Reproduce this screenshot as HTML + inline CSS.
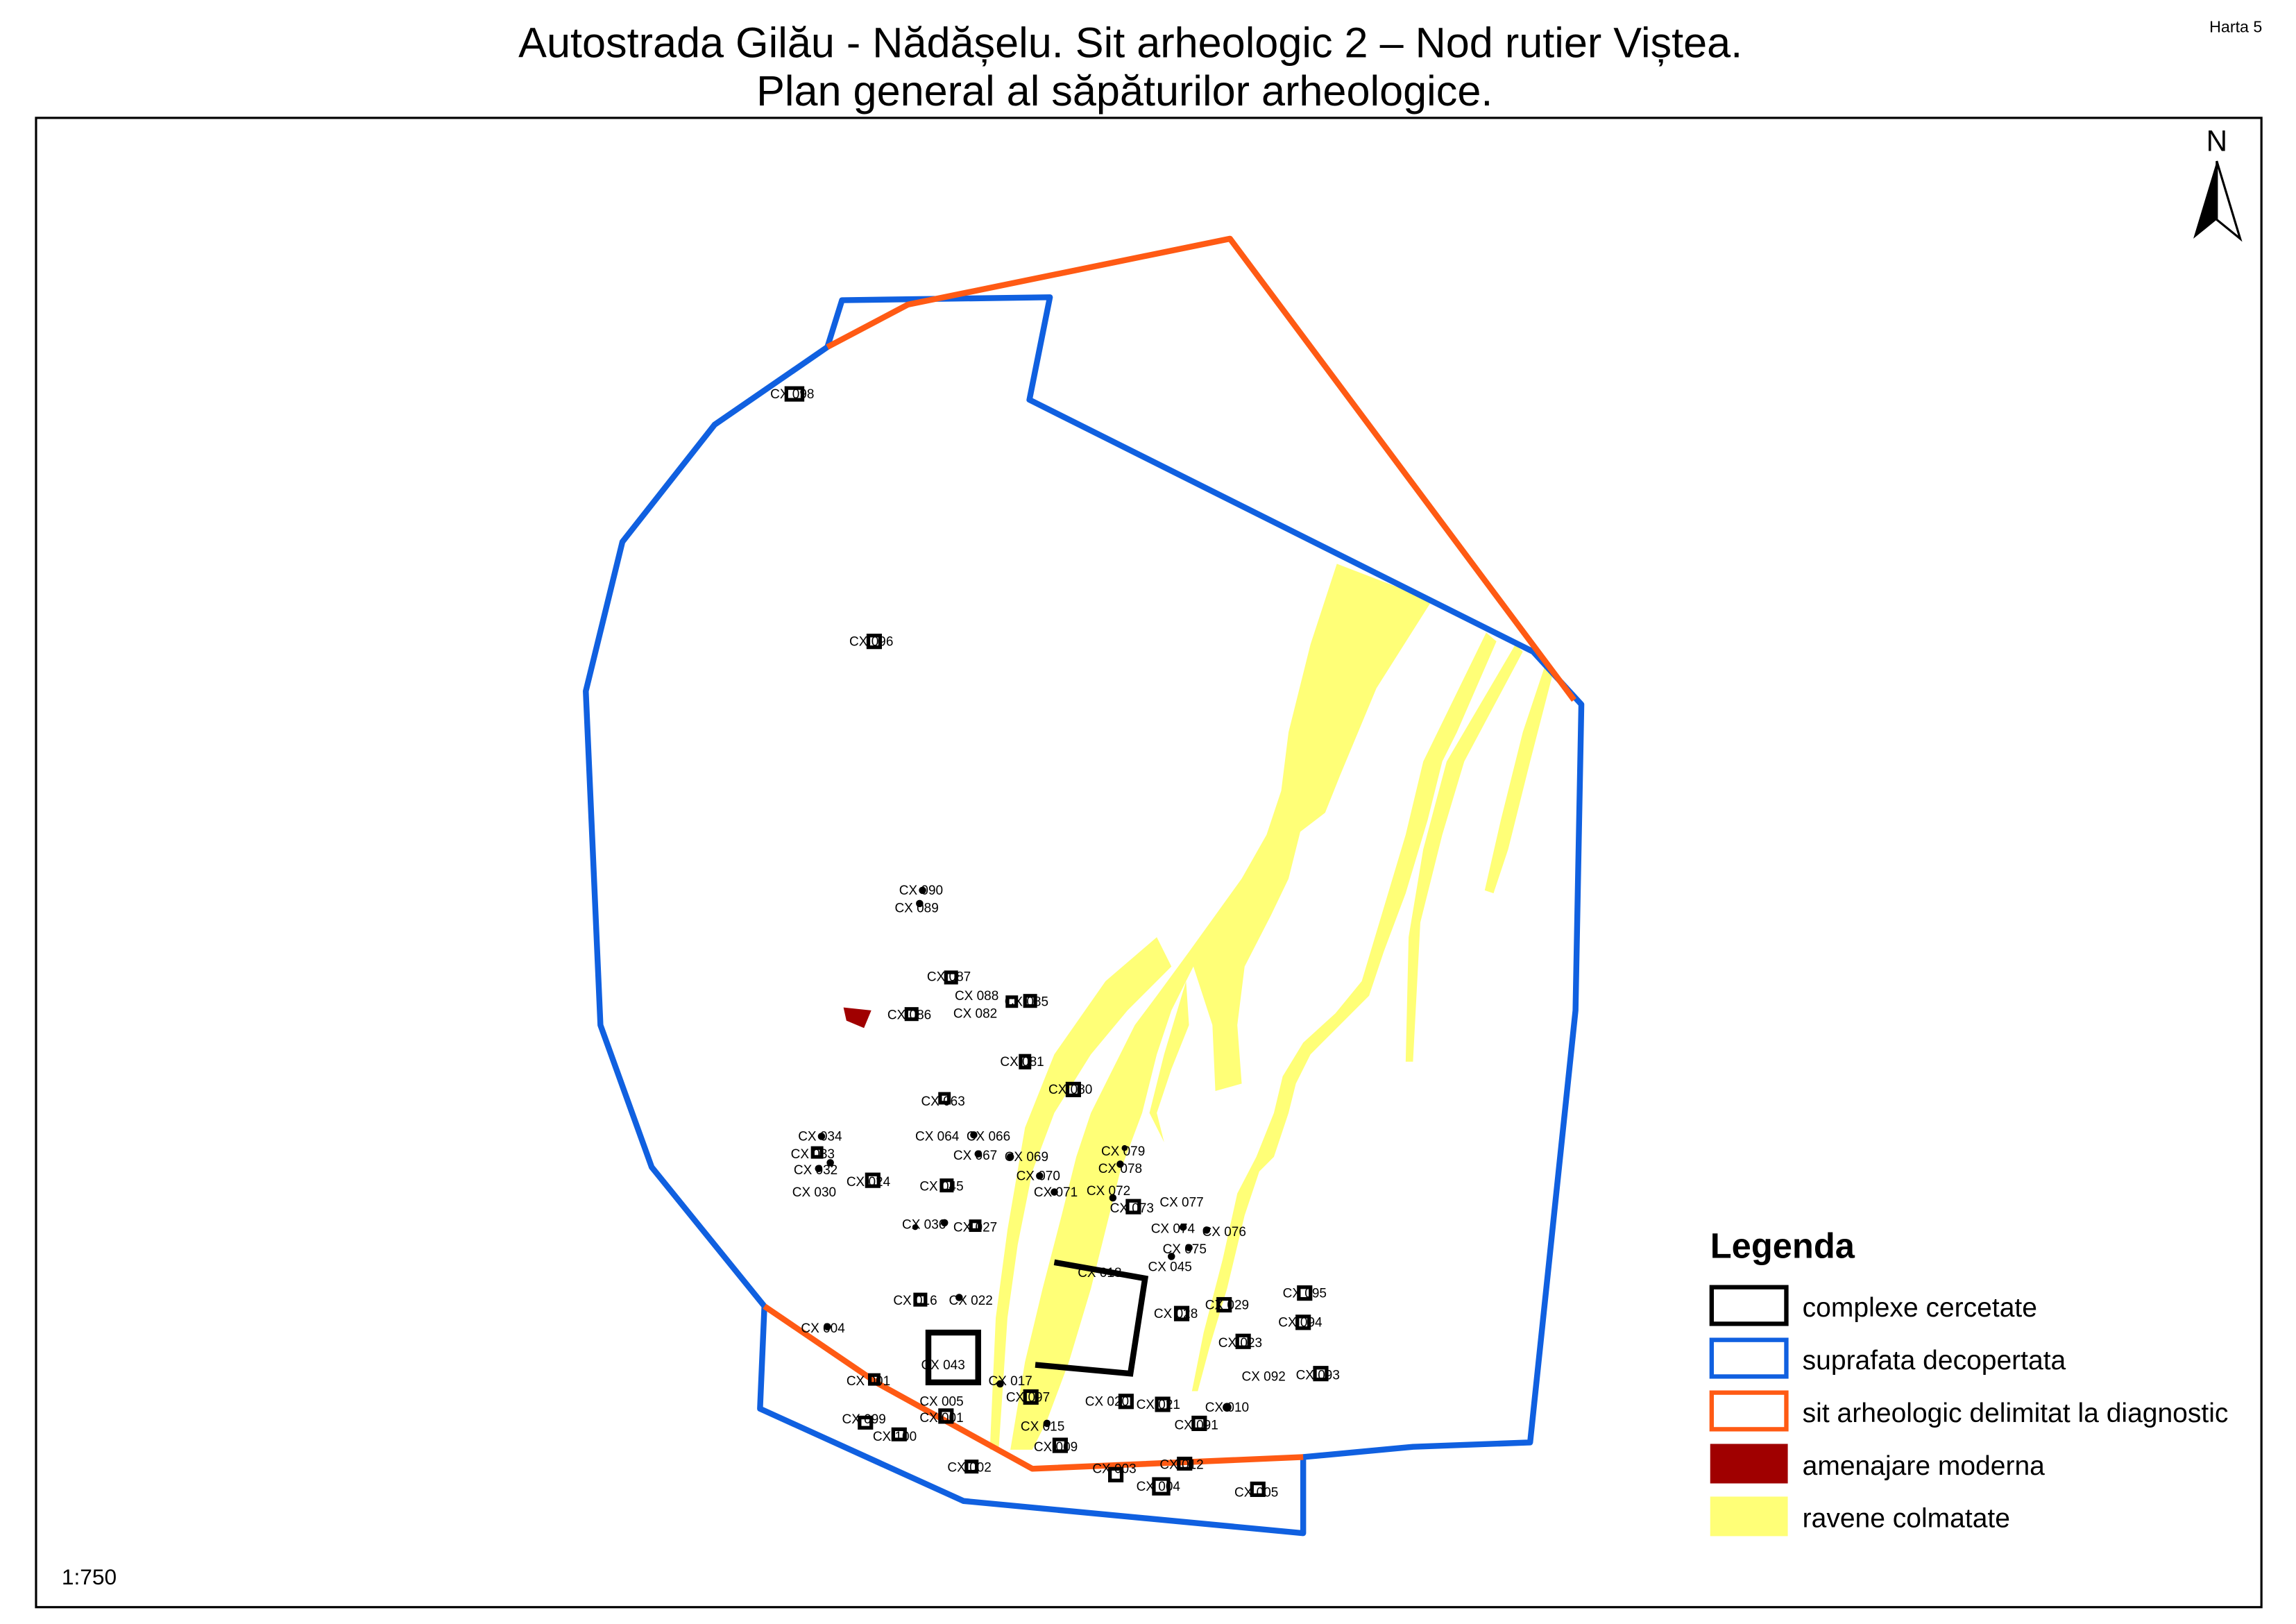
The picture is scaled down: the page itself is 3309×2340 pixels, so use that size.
<!DOCTYPE html>
<html><head><meta charset="utf-8"><style>html,body{margin:0;padding:0;background:#fff}svg{display:block}</style></head>
<body>
<svg width="3309" height="2340" viewBox="0 0 1568 1109" xmlns="http://www.w3.org/2000/svg" font-family="Liberation Sans, sans-serif">
<rect x="0" y="0" width="1568" height="1109" fill="#fff"/>
<text x="772" y="39" font-size="29" text-anchor="middle">Autostrada Gilău - Nădășelu. Sit arheologic 2 – Nod rutier Viștea.</text>
<text x="768" y="72" font-size="29" text-anchor="middle">Plan general al săpăturilor arheologice.</text>
<text x="1527" y="22" font-size="11" text-anchor="middle">Harta 5</text>
<rect x="24.5" y="80.5" width="1520" height="1017" fill="none" stroke="#000" stroke-width="1.5"/>
<text x="1514" y="103" font-size="20" text-anchor="middle">N</text>
<polygon points="1514,110 1498,163 1514,150" fill="#000"/>
<polygon points="1514,110 1530,163 1514,150" fill="#fff" stroke="#000" stroke-width="1.5"/>
<g fill="#ffff77" stroke="none">
<path d="M913,385 L978,410 L940,470 L915,530 L905,555 L888,568 L880,600 L868,625 L850,660 L845,700 L848,740 L830,745 L828,700 L815,660 L800,690 L790,720 L780,760 L765,800 L755,840 L745,880 L730,930 L715,970 L705,990 L690,990 L700,930 L712,880 L725,830 L735,790 L745,760 L760,730 L775,700 L790,680 L812,650 L830,625 L848,600 L865,570 L875,540 L880,500 L895,440 Z"/>
<path d="M700,770 L720,720 L755,670 L790,640 L800,660 L770,690 L745,720 L720,760 L705,800 L695,850 L688,900 L682,990 L676,990 L680,900 L688,840 Z"/>
<path d="M1015,432 L1022,438 L995,500 L985,520 L975,560 L960,610 L945,650 L935,680 L915,700 L895,720 L885,740 L880,760 L870,790 L860,800 L850,830 L838,880 L826,920 L818,950 L814,950 L822,910 L835,860 L845,815 L858,790 L870,760 L876,735 L890,712 L912,692 L930,670 L945,620 L960,570 L972,520 Z"/>
<path d="M1035,440 L1040,445 L1000,520 L985,570 L970,630 L965,725 L960,725 L962,640 L972,580 L988,520 Z"/>
<path d="M1055,455 L1060,462 L1045,520 L1030,580 L1020,610 L1014,608 L1025,560 L1040,500 Z"/>
<path d="M810,670 L812,700 L800,730 L790,760 L795,780 L785,760 L795,720 Z"/>
</g>
<polygon points="575,205 717,203 703,273 1047,445 1080,481 1076,690 1045,985 965,988 890,995 890,1047 658,1025 519,962 522,892 445,797 410,700 400,472 425,370 488,290 565,237" fill="none" stroke="#1060e0" stroke-width="4" stroke-linejoin="round"/>
<g fill="none" stroke="#ff5a14" stroke-width="4" stroke-linejoin="round">
<polyline points="565,237 620,208 840,163 1075,478"/>
<polyline points="522,892 600,945 705,1003 890,995"/>
</g>
<polygon points="576,688 595,690 590,702 578,697" fill="#a00000"/>
<g fill="none" stroke="#000" stroke-width="4">
<polyline points="720,862 782,873 772,938 707,932"/>
<rect x="634" y="910" width="34" height="34"/>
</g>
<g fill="none" stroke="#000" stroke-width="2.5">
<rect x="537" y="265" width="11" height="8"/><rect x="593" y="434" width="8" height="8"/>
<rect x="646" y="664" width="7" height="7"/><rect x="619" y="689" width="7" height="7"/><rect x="688" y="681" width="6" height="6"/><rect x="700" y="680" width="7" height="7"/>
<rect x="697" y="721" width="6" height="8"/><rect x="729" y="740" width="8" height="8"/><rect x="642" y="747" width="6" height="6"/>
<rect x="555" y="784" width="6" height="6"/><rect x="592" y="802" width="8" height="8"/><rect x="643" y="806" width="7" height="7"/>
<rect x="663" y="834" width="6" height="6"/><rect x="625" y="884" width="7" height="7"/><rect x="770" y="820" width="8" height="8"/>
<rect x="803" y="893" width="8" height="8"/><rect x="832" y="887" width="8" height="8"/><rect x="845" y="912" width="8" height="8"/>
<rect x="887" y="879" width="8" height="8"/><rect x="886" y="899" width="8" height="8"/><rect x="898" y="934" width="8" height="8"/>
<rect x="700" y="950" width="8" height="8"/><rect x="765" y="953" width="8" height="8"/><rect x="790" y="955" width="8" height="8"/>
<rect x="815" y="968" width="8" height="8"/><rect x="720" y="983" width="8" height="8"/><rect x="758" y="1003" width="8" height="8"/>
<rect x="788" y="1010" width="10" height="10"/><rect x="855" y="1013" width="8" height="8"/><rect x="660" y="998" width="7" height="7"/>
<rect x="610" y="976" width="8" height="7"/><rect x="587" y="968" width="8" height="7"/><rect x="642" y="963" width="8" height="8"/>
<rect x="805" y="996" width="8" height="7"/><rect x="594" y="939" width="6" height="6"/>
</g>
<g fill="#000">
<circle cx="630" cy="608" r="2.5"/><circle cx="628" cy="617" r="2.5"/><circle cx="561" cy="776" r="2.5"/><circle cx="559" cy="798" r="2.5"/>
<circle cx="567" cy="794" r="2.5"/><circle cx="625" cy="838" r="2"/><circle cx="645" cy="835" r="2.5"/><circle cx="690" cy="790" r="2.5"/>
<circle cx="710" cy="803" r="2.5"/><circle cx="720" cy="814" r="2.5"/><circle cx="760" cy="818" r="2.5"/><circle cx="808" cy="838" r="2.5"/>
<circle cx="824" cy="840" r="2.5"/><circle cx="812" cy="852" r="2.5"/><circle cx="800" cy="858" r="2.5"/><circle cx="665" cy="775" r="2.5"/>
<circle cx="668" cy="788" r="2.5"/><circle cx="655" cy="886" r="2.5"/><circle cx="565" cy="906" r="2.5"/><circle cx="715" cy="972" r="2.5"/>
<circle cx="683" cy="945" r="2.5"/><circle cx="838" cy="961" r="3"/><circle cx="765" cy="795" r="2.5"/><circle cx="768" cy="784" r="2"/>
</g>
<g font-size="9" fill="#000">
<text x="526" y="272">CX 098</text><text x="580" y="441">CX 096</text><text x="614" y="611">CX 090</text><text x="611" y="623">CX 089</text>
<text x="633" y="670">CX 087</text><text x="652" y="683">CX 088</text><text x="686" y="687">CX 085</text><text x="651" y="695">CX 082</text>
<text x="606" y="696">CX 086</text><text x="683" y="728">CX 081</text><text x="716" y="747">CX 080</text><text x="629" y="755">CX 063</text>
<text x="545" y="779">CX 034</text><text x="625" y="779">CX 064</text><text x="660" y="779">CX 066</text><text x="540" y="791">CX 033</text>
<text x="651" y="792">CX 067</text><text x="686" y="793">CX 069</text><text x="752" y="789">CX 079</text><text x="542" y="802">CX 032</text>
<text x="578" y="810">CX 024</text><text x="750" y="801">CX 078</text><text x="694" y="806">CX 070</text><text x="628" y="813">CX 045</text>
<text x="541" y="817">CX 030</text><text x="706" y="817">CX 071</text><text x="742" y="816">CX 072</text><text x="792" y="824">CX 077</text>
<text x="758" y="828">CX 073</text><text x="616" y="839">CX 036</text><text x="651" y="841">CX 027</text><text x="786" y="842">CX 074</text>
<text x="821" y="844">CX 076</text><text x="794" y="856">CX 075</text><text x="784" y="868">CX 045</text><text x="736" y="872">CX 018</text>
<text x="610" y="891">CX 016</text><text x="648" y="891">CX 022</text><text x="876" y="886">CX 095</text><text x="823" y="894">CX 029</text>
<text x="788" y="900">CX 028</text><text x="873" y="906">CX 094</text><text x="547" y="910">CX 004</text><text x="832" y="920">CX 023</text>
<text x="629" y="935">CX 043</text><text x="848" y="943">CX 092</text><text x="885" y="942">CX 093</text><text x="578" y="946">CX 001</text>
<text x="675" y="946">CX 017</text><text x="687" y="957">CX 097</text><text x="741" y="960">CX 020</text><text x="776" y="962">CX 021</text>
<text x="628" y="960">CX 005</text><text x="823" y="964">CX 010</text><text x="628" y="971">CX 001</text><text x="575" y="972">CX 099</text>
<text x="697" y="977">CX 015</text><text x="802" y="976">CX 091</text><text x="596" y="984">CX 100</text><text x="706" y="991">CX 009</text>
<text x="647" y="1005">CX 002</text><text x="746" y="1006">CX 003</text><text x="792" y="1003">CX 012</text><text x="776" y="1018">CX 004</text>
<text x="843" y="1022">CX 005</text>
</g>
<text x="1168" y="859" font-size="24" font-weight="bold">Legenda</text>
<g stroke-width="3">
<rect x="1169" y="879" width="51" height="25" fill="#fff" stroke="#000"/>
<rect x="1169" y="915" width="51" height="25" fill="#fff" stroke="#1060e0"/>
<rect x="1169" y="951" width="51" height="25" fill="#fff" stroke="#ff5a14"/>
<rect x="1168" y="986" width="53" height="27" fill="#a00000" stroke="none"/>
<rect x="1168" y="1022" width="53" height="27" fill="#ffff77" stroke="none"/>
</g>
<g font-size="18.5">
<text x="1231" y="899">complexe cercetate</text>
<text x="1231" y="935">suprafata decopertata</text>
<text x="1231" y="971">sit arheologic delimitat la diagnostic</text>
<text x="1231" y="1007">amenajare moderna</text>
<text x="1231" y="1043">ravene colmatate</text>
</g>
<text x="42" y="1082" font-size="15">1:750</text>
</svg>
</body></html>
